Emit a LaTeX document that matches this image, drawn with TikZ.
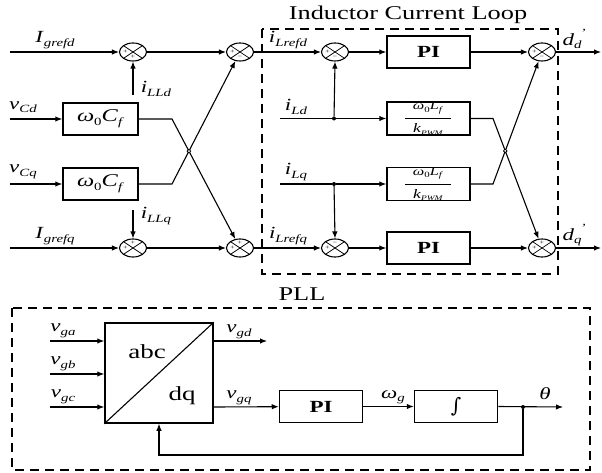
\documentclass[tikz,border=0pt]{standalone}
\usepackage{fontspec}
\setmainfont{Liberation Serif}[FakeStretch=1.35]
\newfontfamily\dvs{DejaVu Serif}
\usetikzlibrary{arrows.meta,shapes.geometric,intersections}
\newcommand{\lsz}{\fontsize{17}{20}\selectfont}
\newcommand{\ssz}{\fontsize{11}{12}\selectfont}
\newcommand{\vv}[2]{\textit{#1}\raisebox{-0.45ex}{\ssz\textit{#2}}}
\newcommand{\dprime}[1]{\textit{d}\raisebox{-0.45ex}{\ssz\textit{#1}}\kern-1pt\raisebox{1.1ex}{\ssz\textit{'}}}
\newcommand{\wcf}{\textit{ω}\raisebox{-0.45ex}{\ssz 0}\textit{C}\raisebox{-0.45ex}{\ssz\textit{f}}}
\newcommand{\wlf}{{\fontsize{12}{13}\selectfont\textit{ω}\raisebox{-0.4ex}{\fontsize{8}{8}\selectfont 0}\textit{L}\raisebox{-0.4ex}{\fontsize{8}{8}\selectfont\textit{f}}}}
\newcommand{\kpwm}{{\fontsize{13}{14}\selectfont\textit{k}\raisebox{-0.4ex}{\fontsize{7}{7}\selectfont\textit{PWM}}}}
\begin{document}
\begin{tikzpicture}[x=1pt,y=-1pt,
  wire/.style={line width=1.1pt},
  sig/.style={wire,-{Latex[length=7pt,width=5.5pt]}},
  blk/.style={draw,line width=1.5pt,minimum width=75pt,minimum height=32pt,inner sep=0pt,font=\fontsize{18}{20}\selectfont},
  pibox/.style={draw,line width=1.5pt,minimum width=83pt,minimum height=32pt,inner sep=0pt,font=\fontsize{17}{20}\selectfont\bfseries},
  sumj/.style={draw,ellipse,line width=1.1pt,minimum width=27pt,minimum height=18pt,inner sep=0pt,
    path picture={\draw[line width=0.7pt] (path picture bounding box.north west) -- (path picture bounding box.south east)
      (path picture bounding box.south west) -- (path picture bounding box.north east);}},
  grp/.style={draw,line width=1.9pt,dash pattern=on 9pt off 6pt},
  lbl/.style={inner sep=0pt,font=\lsz},
  sgn/.style={inner sep=0pt,font=\fontsize{6}{6}\selectfont},
  jdot/.style={circle,fill,inner sep=0pt,minimum size=4pt},
  ttl/.style={inner sep=0pt,font=\fontsize{19.5}{22}\selectfont},
  hop/.style={draw,line width=0.8pt,fill=white},
]
\useasboundingbox (0,0) rectangle (602,473);
\fill[white] (0,0) rectangle (602,473);

% group frames and titles
\draw[grp] (262,29) rectangle (558,274);
\node[ttl] (t1) at (408,15) {Inductor Current Loop};
\draw[grp] (12,308) rectangle (590,470);
\node[ttl] (t2) at (302,294) {PLL};

% ---------- left decoupling part ----------
\node[sumj] (s1) at (133,52) {};
\node[sumj] (s2) at (240,52) {};
\node[sumj] (s3) at (133,248) {};
\node[sumj] (s4) at (240,248) {};
\node[blk] (w1) at (100.5,119) {\wcf};
\node[blk] (w2) at (100.5,184) {\wcf};

\coordinate (in1) at (10,52);
\coordinate (in2) at (10,248);
\coordinate (vcd) at (10,119);
\coordinate (vcq) at (10,184);
\coordinate (lld) at (133,95);
\coordinate (llq) at (133,210);
\coordinate (c1) at (172,119);
\coordinate (c2) at (172,184);

\draw[sig] (in1) -- (s1);
\draw[sig] (s1) -- (s2);
\draw[sig] (in2) -- (s3);
\draw[sig] (s3) -- (s4);
\draw[sig] (vcd) -- (w1);
\draw[sig] (vcq) -- (w2);
\draw[sig] (lld) -- (s1.south);
\draw[sig] (llq) -- (s3.north);
\draw[sig,name path=A] (w1.east) -- (c1) -- (s4);
\draw[sig,name path=B] (w2.east) -- (c2) -- (s2);
\path[name intersections={of=A and B,by=x1}];
\draw[hop] (x1) circle[radius=1.8pt];

\node[lbl] (l1) at (55,40) {\vv{I}{grefd}};
\node[lbl] (l2) at (55,236) {\vv{I}{grefq}};
\node[lbl] (l3) at (23,107) {\vv{v}{Cd}};
\node[lbl] (l4) at (23,172) {\vv{v}{Cq}};
\node[lbl] (l5) at (156,89) {\vv{i}{LLd}};
\node[lbl] (l6) at (156,216) {\vv{i}{LLq}};

% ---------- inductor current loop ----------
\node[sumj] (s5) at (335,52) {};
\node[sumj] (s6) at (542,52) {};
\node[sumj] (s7) at (335,248) {};
\node[sumj] (s8) at (542,248) {};
\node[pibox] (p1) at (428.5,52) {PI};
\node[pibox] (p2) at (428.5,248) {PI};
\node[pibox,minimum height=33pt] (k1) at (428.5,118.5) {};
\node[pibox,minimum height=33pt] (k2) at (428.5,184) {};
\node[inner sep=0pt] (n1) at (428,108) {\wlf};
\node[inner sep=0pt] (d1) at (428,129.5) {\kpwm};
\node[inner sep=0pt] (n2) at (428,173.5) {\wlf};
\node[inner sep=0pt] (d2) at (428,195) {\kpwm};
\draw[line width=0.9pt] (405,118.5) -- (451,118.5);
\draw[line width=0.9pt] (405,184) -- (451,184);

\coordinate (ild) at (280,118.5);
\coordinate (ilq) at (280,184);
\node[jdot] (j1) at (334,118.5) {};
\node[jdot] (j2) at (334,184) {};
\coordinate (c3) at (493,118.5);
\coordinate (c4) at (493,184);
\coordinate (o1) at (601,52);
\coordinate (o2) at (601,248);

\draw[sig] (s2) -- (s5);
\draw[sig] (s4) -- (s7);
\draw[sig] (s5) -- (p1);
\draw[sig] (s7) -- (p2);
\draw[sig] (p1) -- (s6);
\draw[sig] (p2) -- (s8);
\draw[sig] (s6) -- (o1);
\draw[sig] (s8) -- (o2);
\draw[wire] (ild) -- (j1);
\draw[sig] (j1) -- (k1);
\draw[wire] (ilq) -- (j2);
\draw[sig] (j2) -- (k2);
\draw[sig] (j1) -- (s5.south);
\draw[sig] (j2) -- (s7.north);
\draw[sig,name path=C] (k1.east) -- (c3) -- (s8);
\draw[sig,name path=D] (k2.east) -- (c4) -- (s6);
\path[name intersections={of=C and D,by=x2}];
\draw[hop] (x2) circle[radius=1.8pt];

\node[lbl] (l7) at (288,40) {\vv{i}{Lrefd}};
\node[lbl] (l8) at (288,236) {\vv{i}{Lrefq}};
\node[lbl] (l9) at (296,107) {\vv{i}{Ld}};
\node[lbl] (l10) at (296,172) {\vv{i}{Lq}};
\node[lbl] (l11) at (574,39) {\dprime{d}};
\node[lbl] (l12) at (574,235) {\dprime{q}};

% junction signs
\node[sgn] at ([xshift=-7.5pt]s1.center) {+};
\node[sgn] at ([yshift=-5pt]s1.center) {+};
\node[sgn] at ([xshift=-7.5pt]s2.center) {+};
\node[sgn] at ([yshift=-5pt]s2.center) {−};
\node[sgn] at ([xshift=-7.5pt]s3.center) {+};
\node[sgn] at ([yshift=5pt]s3.center) {+};
\node[sgn] at ([xshift=-7.5pt]s4.center) {+};
\node[sgn] at ([yshift=5pt]s4.center) {+};
\node[sgn] at ([xshift=-7.5pt]s5.center) {+};
\node[sgn] at ([yshift=-5pt]s5.center) {−};
\node[sgn] at ([xshift=-7.5pt]s6.center) {+};
\node[sgn] at ([yshift=-5pt]s6.center) {−};
\node[sgn] at ([xshift=-7.5pt]s7.center) {+};
\node[sgn] at ([yshift=5pt]s7.center) {−};
\node[sgn] at ([xshift=-7.5pt]s8.center) {+};
\node[sgn] at ([yshift=5pt]s8.center) {+};

% ---------- PLL ----------
\node[draw,line width=1.5pt,minimum width=108pt,minimum height=100pt,inner sep=0pt] (abc) at (159,373) {};
\draw[line width=1.1pt] (abc.south west) -- (abc.north east);
\node[inner sep=0pt,font=\fontsize{20}{22}\selectfont] (tabc) at (147,352) {abc};
\node[inner sep=0pt,font=\fontsize{20}{22}\selectfont] (tdq) at (182,396) {dq};
\node[pibox] (p3) at (321,406.5) {PI};
\node[pibox,font=\fontsize{20}{22}\selectfont\dvs] (ig) at (456,406.5) {∫};
\node[jdot] (j3) at (523,407) {};

\coordinate (va) at (50,341);
\coordinate (vb) at (50,374);
\coordinate (vc) at (50,407);
\coordinate (vd) at (267,341);
\coordinate (th) at (563,407);
\coordinate (fb) at (523,455);

\draw[sig] (va) -- (va -| abc.west);
\draw[sig] (vb) -- (vb -| abc.west);
\draw[sig] (vc) -- (vc -| abc.west);
\draw[sig] (vd -| abc.east) -- (vd);
\draw[sig] (vc -| abc.east) -- (p3);
\draw[sig] (p3) -- (ig);
\draw[sig] (ig.east) -- (th);
\draw[sig] (j3) -- (fb) -| (abc.south);

\node[lbl] (l13) at (63,331) {\vv{v}{ga}};
\node[lbl] (l14) at (63,364) {\vv{v}{gb}};
\node[lbl] (l15) at (63,397) {\vv{v}{gc}};
\node[lbl] (l16) at (239,332) {\vv{v}{gd}};
\node[lbl] (l17) at (239,398) {\vv{v}{gq}};
\node[lbl] (l18) at (393,397) {\vv{ω}{g}};
\node[lbl] (l19) at (545,394) {\textit{θ}};
\end{tikzpicture}
\end{document}
